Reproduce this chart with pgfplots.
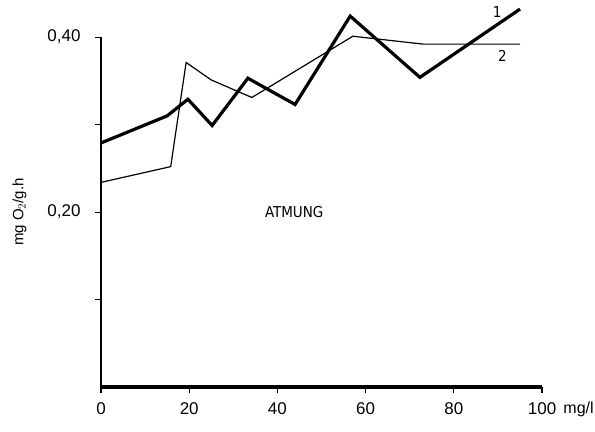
\documentclass[border=0pt]{standalone}
\usepackage{pgfplots}
\pgfplotsset{compat=1.18}
\usepackage{fontspec}
\setmainfont{DejaVu Sans Condensed}
\newfontfamily\lib{Liberation Sans}
\begin{document}
\begin{tikzpicture}
\begin{axis}[
  scale only axis,
  width=441pt, height=350pt,
  xmin=0, xmax=100, ymin=0, ymax=0.40,
  clip=false,
  axis x line=bottom, axis y line=left,
  axis line style={-, line width=2.5pt},
  x axis line style={line width=3.5pt},
  tick align=outside,
  major tick length=6pt,
  tick style={black, line width=1.2pt},
  xtick={0,20,40,60,80,100},
  xticklabels={0,20,40,60,80,100},
  ytick={0.1,0.2,0.3,0.4},
  yticklabels={,{0,20},,{0,40}},
  /pgf/number format/assume math mode=true,
  ticklabel style={font=\lib\fontsize{17}{19}\selectfont},
  xticklabel style={yshift=-6pt},
  yticklabel style={xshift=-11pt},
  ylabel={mg O$_2$/g.h},
  ylabel style={font=\lib\fontsize{15}{17}\selectfont, yshift=14pt},
]
\path (rel axis cs:-0.229,-0.126) rectangle (rel axis cs:1.12,1.106);
\addplot[black, line width=3.2pt, line join=miter] coordinates {
 (0,0.279) (15,0.310) (19.7,0.329) (25.2,0.299) (33.3,0.353) (44,0.323)
 (56.5,0.424) (72.3,0.354) (95,0.432)};
\addplot[black, line width=1.2pt] coordinates {
 (0,0.234) (15.8,0.252) (19.3,0.371) (25,0.351) (34.2,0.331) (57.1,0.401)
 (73,0.392) (95,0.392)};
\node[font=\fontsize{15}{17}\selectfont] at (axis cs:89.8,0.429) {1};
\node[font=\fontsize{15}{17}\selectfont] at (axis cs:91,0.378) {2};
\node[font=\fontsize{15}{17}\selectfont] at (axis cs:43.8,0.20) {ATMUNG};
\node[font=\lib\fontsize{16}{18}\selectfont, anchor=north west, inner sep=0pt] at (axis cs:104.8,0) [yshift=-15pt] {mg/l};
\end{axis}
\end{tikzpicture}
\end{document}
